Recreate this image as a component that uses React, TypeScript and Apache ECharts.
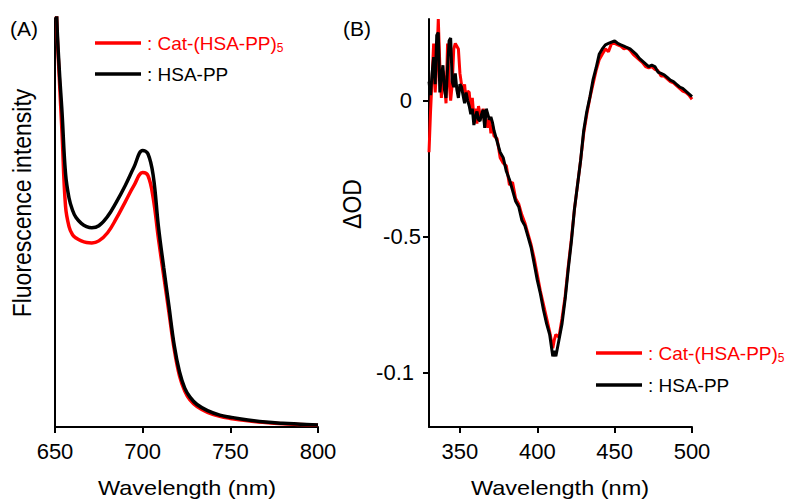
import React, { useEffect, useRef } from "react";
import * as echarts from "echarts";

// ---------- Panel A: fluorescence spectra ----------
const wavelengthA = [650, 651, 652.5, 654, 656, 658, 660, 662, 665, 668, 671, 675, 680, 685, 690, 695, 700, 703, 706, 709, 712, 715, 718, 721, 724, 727, 731, 737, 744, 750, 760, 770, 780, 790, 800];
const catA = [1.2, 0.99, 0.85, 0.72, 0.54, 0.49, 0.47, 0.462, 0.455, 0.451, 0.45, 0.455, 0.475, 0.51, 0.55, 0.59, 0.622, 0.615, 0.56, 0.46, 0.37, 0.28, 0.19, 0.125, 0.088, 0.066, 0.05, 0.036, 0.026, 0.021, 0.015, 0.011, 0.008, 0.006, 0.004];
const hsaA = [1.2, 1.0, 0.87, 0.77, 0.62, 0.56, 0.53, 0.512, 0.498, 0.49, 0.487, 0.492, 0.515, 0.55, 0.59, 0.635, 0.676, 0.668, 0.615, 0.49, 0.39, 0.295, 0.2, 0.135, 0.095, 0.073, 0.055, 0.04, 0.029, 0.024, 0.017, 0.012, 0.009, 0.007, 0.005];
const xTicksA = [650, 700, 750, 800];

// ---------- Panel B: difference spectra ----------
const wavelengthB = [
  330, 331, 332, 333, 334, 335, 336, 337, 338, 339,
  340, 341, 342, 343, 344, 345, 346, 347, 348, 349,
  350, 351, 352, 353, 354, 355, 356, 357, 358, 359,
  360, 361, 362, 363, 364, 365, 366, 367, 368, 369,
  370, 371, 372, 374, 376, 378, 380, 382, 384, 386,
  388, 390, 392, 394, 396, 398, 400, 402, 404, 406,
  408, 410, 411, 412, 414, 416, 418, 420, 422, 424,
  426, 428, 430, 432, 434, 436, 438, 440, 442, 444,
  446, 448, 450, 452, 454, 456, 458, 460, 462, 464,
  466, 468, 470, 472, 474, 476, 478, 480, 482, 484,
  486, 488, 490, 492, 494, 496, 498, 500,
];
const catB = [
  -0.19, -0.04, 0.08, 0.21, 0.03, 0.13, 0.3, 0.13, 0.01, 0.11,
  0.07, -0.01, 0.21, 0.07, 0.0, 0.06, 0.19, 0.21, 0.2, 0.19,
  0.1, 0.06, 0.035, 0.06, 0.0, 0.035, 0.03, -0.04, 0.01, -0.06,
  -0.03, -0.085, -0.02, -0.05, -0.06, -0.03, -0.09, -0.07, -0.1, -0.06,
  -0.12, -0.09, -0.13, -0.14, -0.21, -0.23, -0.24, -0.31, -0.3, -0.36,
  -0.38, -0.42, -0.45, -0.49, -0.53, -0.58, -0.64, -0.7, -0.75, -0.8,
  -0.85, -0.91, -0.88, -0.86, -0.87, -0.8, -0.72, -0.61, -0.51, -0.4,
  -0.31, -0.22, -0.12, -0.05, 0.01, 0.06, 0.11, 0.15, 0.17, 0.19,
  0.18, 0.21, 0.21, 0.205, 0.2, 0.19, 0.195, 0.185, 0.17, 0.16,
  0.15, 0.14, 0.125, 0.12, 0.125, 0.115, 0.11, 0.09, 0.09, 0.08,
  0.07, 0.065, 0.055, 0.045, 0.035, 0.03, 0.02, 0.005,
];
const hsaB = [
  0.07, 0.02, 0.1, 0.16, 0.06, 0.24, 0.25, 0.03, 0.09, 0.13,
  0.04, 0.01, 0.12, 0.22, 0.23, 0.07, 0.05, 0.1, 0.04, 0.01,
  0.06, 0.05, 0.02, -0.01, 0.03, 0.0, -0.02, -0.05, -0.03, -0.09,
  -0.06, -0.04, -0.07, -0.075, -0.05, -0.034, -0.1, -0.03, -0.05, -0.07,
  -0.06, -0.08, -0.11, -0.15, -0.19, -0.21, -0.26, -0.29, -0.33, -0.37,
  -0.39, -0.44, -0.46, -0.5, -0.54, -0.6, -0.66, -0.71, -0.77, -0.82,
  -0.86, -0.94, -0.92, -0.94, -0.88, -0.82, -0.73, -0.62, -0.52, -0.4,
  -0.31, -0.22, -0.11, -0.04, 0.013, 0.076, 0.12, 0.17, 0.19, 0.205,
  0.21, 0.215, 0.22, 0.21, 0.205, 0.2, 0.195, 0.19, 0.18, 0.17,
  0.155, 0.145, 0.135, 0.125, 0.13, 0.125, 0.105, 0.1, 0.095, 0.085,
  0.075, 0.07, 0.06, 0.05, 0.045, 0.035, 0.025, 0.015,
];
const xTicksB = [350, 400, 450, 500];
const yTickValuesB = [0, -0.5, -1];
const yTickLabelsB = ["0", "-0.5", "-0.1"];

const seriesNames = ["Cat-(HSA-PP)", "HSA-PP"];

const RED = "#ff0000";
const BLACK = "#000000";
const FONT = "Liberation Sans, Arial, sans-serif";

function pairs(xs: number[], ys: number[]) {
  return xs.map((x, i) => [x, ys[i]]);
}

export default function App() {
  const ref = useRef<HTMLDivElement>(null);
  useEffect(() => {
    if (!ref.current) return;
    const chart = echarts.init(ref.current, null, { renderer: "svg" });
    const axisLine = { show: true, onZero: false, lineStyle: { color: BLACK, width: 2 } };
    const axisTick = { show: true, inside: false, length: 6, lineStyle: { color: BLACK, width: 2 } };
    const labelStyle = { color: BLACK, fontSize: 22, fontFamily: FONT };

    const legendItems = (x0: number, y0: number, dy: number) => [
      { type: "line", shape: { x1: x0, y1: y0, x2: x0 + 46, y2: y0 }, style: { stroke: RED, lineWidth: 3.5 } },
      {
        type: "text", x: x0 + 52, y: y0,
        style: {
          text: "{m|: " + seriesNames[0] + "}{s|5}",
          verticalAlign: "middle", align: "left",
          rich: {
            m: { fontSize: 19, fontFamily: FONT, fill: RED, color: RED },
            s: { fontSize: 12, fontFamily: FONT, fill: RED, color: RED, padding: [10, 0, 0, 0] },
          },
        },
      },
      { type: "line", shape: { x1: x0, y1: y0 + dy, x2: x0 + 46, y2: y0 + dy }, style: { stroke: BLACK, lineWidth: 3.5 } },
      {
        type: "text", x: x0 + 52, y: y0 + dy,
        style: { text: ": " + seriesNames[1], fontSize: 19, fontFamily: FONT, fill: BLACK, verticalAlign: "middle", align: "left" },
      },
    ];

    const yLabelPad: Record<string, number> = { "0": 9, "-0.5": 0, "-0.1": 7 };

    chart.setOption({
      animation: false,
      backgroundColor: "#ffffff",
      grid: [
        { left: 55, top: 18, width: 263, height: 409 },
        { left: 429, top: 19, width: 263, height: 408 },
      ],
      xAxis: [
        {
          gridIndex: 0, type: "value", min: 650, max: 800, interval: 50,
          axisLine, axisTick, splitLine: { show: false },
          axisLabel: { ...labelStyle, margin: 13, customValues: xTicksA },
        },
        {
          gridIndex: 1, type: "value", min: 330, max: 500,
          axisLine, axisTick: { ...axisTick, customValues: xTicksB }, splitLine: { show: false },
          axisLabel: { ...labelStyle, margin: 13, customValues: xTicksB },
        },
      ],
      yAxis: [
        {
          gridIndex: 0, type: "value", min: 0, max: 1,
          axisLine, axisTick: { show: false }, axisLabel: { show: false }, splitLine: { show: false },
        },
        {
          gridIndex: 1, type: "value", min: -1.2, max: 0.3,
          axisLine, axisTick: { ...axisTick, customValues: yTickValuesB }, splitLine: { show: false },
          axisLabel: {
            ...labelStyle, margin: 8, customValues: yTickValuesB,
            formatter: (v: number) => {
              const i = yTickValuesB.findIndex((t) => Math.abs(t - v) < 1e-9);
              if (i < 0) return "";
              return "{p" + i + "|" + yTickLabelsB[i] + "}";
            },
            rich: {
              p0: { fontSize: 22, fontFamily: FONT, color: BLACK, padding: [0, yLabelPad["0"], 0, 0] },
              p1: { fontSize: 22, fontFamily: FONT, color: BLACK, padding: [0, yLabelPad["-0.5"], 0, 0] },
              p2: { fontSize: 22, fontFamily: FONT, color: BLACK, padding: [0, yLabelPad["-0.1"], 0, 0] },
            },
          },
        },
      ],
      series: [
        {
          name: seriesNames[0], type: "line", xAxisIndex: 0, yAxisIndex: 0,
          data: pairs(wavelengthA, catA), smooth: 0.4, showSymbol: false,
          lineStyle: { color: RED, width: 3.5 }, clip: true,
        },
        {
          name: seriesNames[1], type: "line", xAxisIndex: 0, yAxisIndex: 0,
          data: pairs(wavelengthA, hsaA), smooth: 0.4, showSymbol: false,
          lineStyle: { color: BLACK, width: 3.5 }, clip: true,
        },
        {
          name: seriesNames[0], type: "line", xAxisIndex: 1, yAxisIndex: 1,
          data: pairs(wavelengthB, catB), showSymbol: false,
          lineStyle: { color: RED, width: 3 }, clip: true,
        },
        {
          name: seriesNames[1], type: "line", xAxisIndex: 1, yAxisIndex: 1,
          data: pairs(wavelengthB, hsaB), showSymbol: false,
          lineStyle: { color: BLACK, width: 3 }, clip: true,
        },
      ],
      graphic: [
        { type: "text", x: 10, y: 28, style: { text: "(A)", fontSize: 21, fontFamily: FONT, fill: BLACK, verticalAlign: "middle" } },
        { type: "text", x: 343, y: 28, style: { text: "(B)", fontSize: 21, fontFamily: FONT, fill: BLACK, verticalAlign: "middle" } },
        {
          type: "text", x: 22, y: 203, rotation: Math.PI / 2, scaleY: 1.1,
          style: { text: "Fluorescence intensity", fontSize: 23, fontFamily: FONT, fill: BLACK, align: "center", verticalAlign: "middle" },
        },
        {
          type: "text", x: 352, y: 204, rotation: Math.PI / 2, scaleY: 1.1,
          style: { text: "ΔOD", fontSize: 23, fontFamily: FONT, fill: BLACK, align: "center", verticalAlign: "middle" },
        },
        { type: "text", x: 187, y: 488, scaleX: 1.12, style: { text: "Wavelength (nm)", fontSize: 21, fontFamily: FONT, fill: BLACK, align: "center", verticalAlign: "middle" } },
        { type: "text", x: 560, y: 488, scaleX: 1.12, style: { text: "Wavelength (nm)", fontSize: 21, fontFamily: FONT, fill: BLACK, align: "center", verticalAlign: "middle" } },
        ...legendItems(95, 43, 31),
        ...legendItems(596, 353, 32),
      ],
    });
    return () => chart.dispose();
  }, []);
  return <div ref={ref} style={{ position: "absolute", left: 0, top: 0, width: 790, height: 501 }} />;
}
